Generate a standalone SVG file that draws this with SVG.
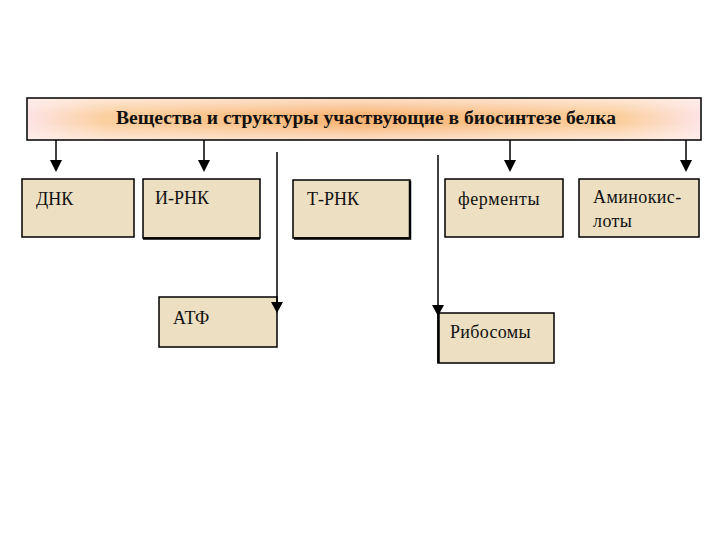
<svg xmlns="http://www.w3.org/2000/svg" width="720" height="540" viewBox="0 0 720 540">
<defs>
<linearGradient id="hg" x1="0" y1="0" x2="1" y2="0">
<stop offset="0" stop-color="#fde4e4"/>
<stop offset="0.12" stop-color="#fbcf9e"/>
<stop offset="0.5" stop-color="#f8b474"/>
<stop offset="0.88" stop-color="#fbcf9e"/>
<stop offset="1" stop-color="#fde4e4"/>
</linearGradient>
<linearGradient id="hv" x1="0" y1="0" x2="0" y2="1">
<stop offset="0" stop-color="#fff2ee" stop-opacity="0.7"/>
<stop offset="0.4" stop-color="#fff2ee" stop-opacity="0"/>
<stop offset="0.6" stop-color="#fff2ee" stop-opacity="0"/>
<stop offset="1" stop-color="#fff2ee" stop-opacity="0.7"/>
</linearGradient>
</defs>
<style>
.box{fill:#ecdfc2;stroke:#000;stroke-width:1.5}
.t{font-family:"Liberation Serif","DejaVu Serif",serif;font-size:18px;fill:#111}
.title{font-family:"Liberation Serif","DejaVu Serif",serif;font-size:18px;font-weight:bold;fill:#111}
.ln{stroke:#000;stroke-width:1.5;fill:none}
.ah{fill:#000}
</style>
<rect width="720" height="540" fill="#fff"/>

<g id="header">
<rect x="27" y="98" width="674" height="42" fill="url(#hg)"/>
<rect x="27" y="98" width="674" height="42" fill="url(#hv)" stroke="#000" stroke-width="1.5"/>
<text class="title" x="366" y="124" text-anchor="middle" textLength="500" lengthAdjust="spacingAndGlyphs">Вещества и структуры участвующие в биосинтезе белка</text>
</g>

<g id="dnk">
<rect class="box" x="22" y="179" width="112" height="58"/>
<text class="t" x="36" y="205">ДНК</text>
</g>
<g id="irnk">
<rect class="box" x="143" y="179" width="117" height="59"/>
<line x1="143" y1="238.5" x2="260" y2="238.5" stroke="#000" stroke-width="2.5"/>
<text class="t" x="155" y="204">И-РНК</text>
</g>
<g id="trnk">
<rect class="box" x="293" y="180" width="117" height="58"/>
<path d="M410,181 L410,238.5 L294,238.5" fill="none" stroke="#000" stroke-width="2.5"/>
<text class="t" x="307" y="205">Т-РНК</text>
</g>
<g id="fermenty">
<rect class="box" x="445" y="179" width="118" height="58"/>
<text class="t" x="458" y="205" letter-spacing="0.6">ферменты</text>
</g>
<g id="aminokisloty">
<rect class="box" x="579" y="179" width="120" height="58"/>
<text class="t" x="593" y="203" letter-spacing="0.4">Аминокис-</text>
<text class="t" x="593" y="227" letter-spacing="0.4">лоты</text>
</g>
<g id="atf">
<rect class="box" x="159" y="297" width="118" height="50"/>
<text class="t" x="173" y="324">АТФ</text>
</g>
<g id="ribosomy">
<rect class="box" x="438" y="313" width="116" height="50"/>
<line x1="438.5" y1="313" x2="438.5" y2="363" stroke="#000" stroke-width="2.5"/>
<text class="t" x="450" y="338" letter-spacing="0.3">Рибосомы</text>
</g>

<g id="connectors">
<line class="ln" x1="56" y1="140" x2="56" y2="160" stroke-width="2"/>
<path class="ah" d="M50,160 L62,160 L56,172 Z"/>
<line class="ln" x1="204" y1="140" x2="204" y2="160"/>
<path class="ah" d="M198,160 L210,160 L204,172 Z"/>
<line class="ln" x1="510" y1="140" x2="510" y2="160"/>
<path class="ah" d="M504,160 L516,160 L510,172 Z"/>
<line class="ln" x1="686" y1="140" x2="686" y2="160" stroke-width="2"/>
<path class="ah" d="M680,160 L692,160 L686,172 Z"/>
<line class="ln" x1="277" y1="152" x2="277" y2="302"/>
<path class="ah" d="M271,302 L283,302 L277,313 Z"/>
<line class="ln" x1="438" y1="155" x2="438" y2="305"/>
<path class="ah" d="M432,305 L444,305 L438,316 Z"/>
</g>
</svg>
